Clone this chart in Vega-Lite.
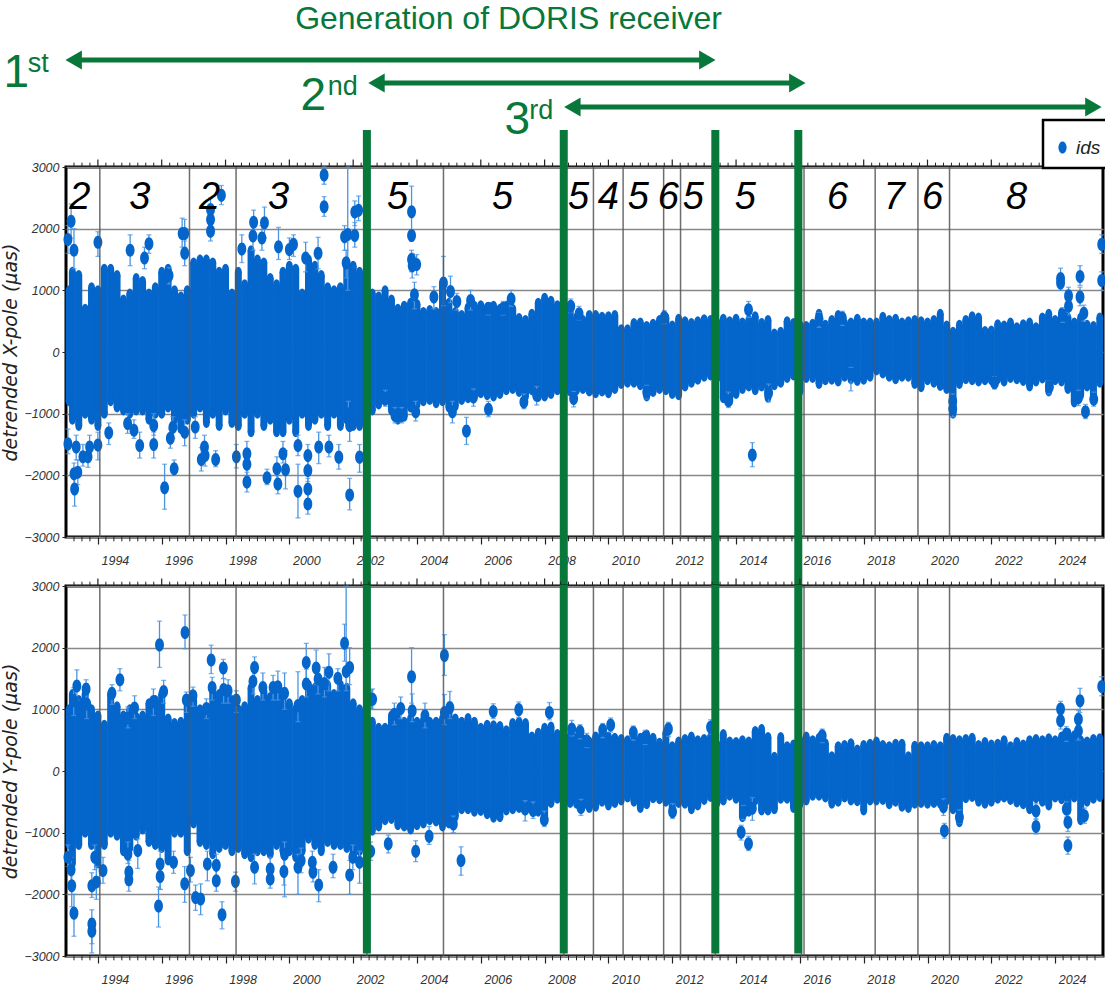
{
"$schema":"https://vega.github.io/schema/vega-lite/v6.json",
"background":"white",
"autosize":{"type":"none"},
"padding":{"left":66,"top":167,"right":1039,"bottom":827},
"bounds":"flush",
"spacing":49,
"config":{"view":{"stroke":"black","strokeWidth":3},"text":{"font":"Liberation Sans"}},
"datasets":{
"bandX":[
{"t":1993.1,"lo":-800,"hi":1000},{"t":1993.2,"lo":-1100,"hi":1300},{"t":1993.4,"lo":-1200,"hi":1250},{"t":1993.6,"lo":-1000,"hi":700},{"t":1993.8,"lo":-1100,"hi":1050},
{"t":1994.0,"lo":-1200,"hi":1000},{"t":1994.2,"lo":-1000,"hi":1350},{"t":1994.4,"lo":-800,"hi":1350},{"t":1994.6,"lo":-900,"hi":1250},{"t":1994.8,"lo":-950,"hi":850},
{"t":1995.0,"lo":-1000,"hi":950},{"t":1995.2,"lo":-950,"hi":1200},{"t":1995.4,"lo":-950,"hi":1150},{"t":1995.6,"lo":-1100,"hi":950},{"t":1995.8,"lo":-1000,"hi":1050},
{"t":1996.0,"lo":-1000,"hi":1300},{"t":1996.2,"lo":-900,"hi":1350},{"t":1996.4,"lo":-1100,"hi":1000},{"t":1996.6,"lo":-1250,"hi":900},{"t":1996.8,"lo":-1100,"hi":1000},
{"t":1997.0,"lo":-1000,"hi":1450},{"t":1997.2,"lo":-900,"hi":1500},{"t":1997.4,"lo":-1150,"hi":1500},{"t":1997.6,"lo":-1000,"hi":1450},{"t":1997.8,"lo":-1200,"hi":1300},
{"t":1998.0,"lo":-950,"hi":1350},{"t":1998.2,"lo":-1150,"hi":950},{"t":1998.4,"lo":-1200,"hi":1300},{"t":1998.6,"lo":-1000,"hi":1100},{"t":1998.8,"lo":-1300,"hi":1650},
{"t":1999.0,"lo":-1000,"hi":1500},{"t":1999.2,"lo":-1200,"hi":1450},{"t":1999.4,"lo":-1100,"hi":1200},{"t":1999.6,"lo":-1300,"hi":1100},{"t":1999.8,"lo":-1300,"hi":1300},
{"t":2000.0,"lo":-1100,"hi":1400},{"t":2000.2,"lo":-1300,"hi":1350},{"t":2000.4,"lo":-1000,"hi":950},{"t":2000.6,"lo":-1200,"hi":1500},{"t":2000.8,"lo":-1100,"hi":1400},
{"t":2001.0,"lo":-1000,"hi":1250},{"t":2001.2,"lo":-1200,"hi":1050},{"t":2001.4,"lo":-1000,"hi":1000},{"t":2001.6,"lo":-1200,"hi":1050},{"t":2001.8,"lo":-1100,"hi":1400},
{"t":2002.0,"lo":-1200,"hi":1400},{"t":2002.2,"lo":-1200,"hi":1300},{"t":2002.4,"lo":-950,"hi":1000},{"t":2002.6,"lo":-950,"hi":950},{"t":2002.8,"lo":-850,"hi":900},
{"t":2003.0,"lo":-800,"hi":1000},{"t":2003.2,"lo":-950,"hi":850},{"t":2003.4,"lo":-1100,"hi":700},{"t":2003.6,"lo":-1050,"hi":750},{"t":2003.8,"lo":-900,"hi":800},
{"t":2004.0,"lo":-850,"hi":780},{"t":2004.2,"lo":-800,"hi":650},{"t":2004.4,"lo":-780,"hi":680},{"t":2004.6,"lo":-830,"hi":650},{"t":2004.8,"lo":-800,"hi":1100},
{"t":2005.0,"lo":-900,"hi":800},{"t":2005.2,"lo":-880,"hi":650},{"t":2005.4,"lo":-780,"hi":600},{"t":2005.6,"lo":-750,"hi":720},{"t":2005.8,"lo":-700,"hi":750},
{"t":2006.0,"lo":-670,"hi":760},{"t":2006.2,"lo":-700,"hi":720},{"t":2006.4,"lo":-720,"hi":750},{"t":2006.6,"lo":-680,"hi":700},{"t":2006.8,"lo":-620,"hi":750},
{"t":2007.0,"lo":-600,"hi":700},{"t":2007.2,"lo":-650,"hi":550},{"t":2007.4,"lo":-720,"hi":520},{"t":2007.6,"lo":-620,"hi":620},{"t":2007.8,"lo":-730,"hi":800},
{"t":2008.0,"lo":-720,"hi":880},{"t":2008.2,"lo":-680,"hi":830},{"t":2008.4,"lo":-620,"hi":760},{"t":2008.6,"lo":-640,"hi":720},{"t":2008.8,"lo":-640,"hi":640},
{"t":2009.0,"lo":-620,"hi":560},{"t":2009.2,"lo":-600,"hi":520},{"t":2009.4,"lo":-640,"hi":600},{"t":2009.6,"lo":-670,"hi":600},{"t":2009.8,"lo":-640,"hi":570},
{"t":2010.0,"lo":-670,"hi":580},{"t":2010.2,"lo":-600,"hi":600},{"t":2010.4,"lo":-520,"hi":370},{"t":2010.6,"lo":-500,"hi":370},{"t":2010.8,"lo":-500,"hi":470},
{"t":2011.0,"lo":-540,"hi":480},{"t":2011.2,"lo":-720,"hi":420},{"t":2011.4,"lo":-650,"hi":460},{"t":2011.6,"lo":-600,"hi":520},{"t":2011.8,"lo":-620,"hi":560},
{"t":2012.0,"lo":-680,"hi":430},{"t":2012.2,"lo":-700,"hi":540},{"t":2012.4,"lo":-560,"hi":500},{"t":2012.6,"lo":-500,"hi":470},{"t":2012.8,"lo":-450,"hi":500},
{"t":2013.0,"lo":-400,"hi":530},{"t":2013.2,"lo":-380,"hi":520},{"t":2013.4,"lo":-420,"hi":480},{"t":2013.6,"lo":-750,"hi":540},{"t":2013.8,"lo":-800,"hi":500},
{"t":2014.0,"lo":-680,"hi":540},{"t":2014.2,"lo":-600,"hi":480},{"t":2014.4,"lo":-560,"hi":520},{"t":2014.6,"lo":-620,"hi":580},{"t":2014.8,"lo":-560,"hi":470},
{"t":2015.0,"lo":-740,"hi":520},{"t":2015.2,"lo":-540,"hi":300},{"t":2015.4,"lo":-500,"hi":330},{"t":2015.6,"lo":-420,"hi":500},{"t":2015.8,"lo":-380,"hi":470},
{"t":2016.0,"lo":-640,"hi":440},{"t":2016.2,"lo":-420,"hi":420},{"t":2016.4,"lo":-420,"hi":460},{"t":2016.6,"lo":-520,"hi":620},{"t":2016.8,"lo":-460,"hi":440},
{"t":2017.0,"lo":-450,"hi":520},{"t":2017.2,"lo":-480,"hi":600},{"t":2017.4,"lo":-400,"hi":470},{"t":2017.6,"lo":-440,"hi":480},{"t":2017.8,"lo":-470,"hi":540},
{"t":2018.0,"lo":-450,"hi":480},{"t":2018.2,"lo":-400,"hi":480},{"t":2018.4,"lo":-300,"hi":480},{"t":2018.6,"lo":-350,"hi":570},{"t":2018.8,"lo":-400,"hi":520},
{"t":2019.0,"lo":-440,"hi":540},{"t":2019.2,"lo":-400,"hi":480},{"t":2019.4,"lo":-400,"hi":500},{"t":2019.6,"lo":-520,"hi":520},{"t":2019.8,"lo":-570,"hi":500},
{"t":2020.0,"lo":-460,"hi":480},{"t":2020.2,"lo":-500,"hi":520},{"t":2020.4,"lo":-550,"hi":620},{"t":2020.6,"lo":-600,"hi":430},{"t":2020.8,"lo":-1000,"hi":330},
{"t":2021.0,"lo":-520,"hi":440},{"t":2021.2,"lo":-440,"hi":520},{"t":2021.4,"lo":-460,"hi":580},{"t":2021.6,"lo":-480,"hi":560},{"t":2021.8,"lo":-460,"hi":340},
{"t":2022.0,"lo":-460,"hi":350},{"t":2022.2,"lo":-440,"hi":450},{"t":2022.4,"lo":-480,"hi":430},{"t":2022.6,"lo":-420,"hi":480},{"t":2022.8,"lo":-440,"hi":400},
{"t":2023.0,"lo":-470,"hi":450},{"t":2023.2,"lo":-560,"hi":480},{"t":2023.4,"lo":-480,"hi":400},{"t":2023.6,"lo":-430,"hi":560},{"t":2023.8,"lo":-640,"hi":620},
{"t":2024.0,"lo":-460,"hi":520},{"t":2024.2,"lo":-480,"hi":640},{"t":2024.4,"lo":-600,"hi":560},{"t":2024.6,"lo":-820,"hi":480},{"t":2024.8,"lo":-700,"hi":560},
{"t":2025.0,"lo":-560,"hi":440},{"t":2025.2,"lo":-720,"hi":420},{"t":2025.4,"lo":-500,"hi":560}
],
"bandY":[
{"t":1993.1,"lo":-1200,"hi":1000},{"t":1993.2,"lo":-1500,"hi":1250},{"t":1993.4,"lo":-1200,"hi":1150},{"t":1993.6,"lo":-1000,"hi":1250},{"t":1993.8,"lo":-1200,"hi":1000},
{"t":1994.0,"lo":-1500,"hi":900},{"t":1994.2,"lo":-1200,"hi":750},{"t":1994.4,"lo":-1000,"hi":1250},{"t":1994.6,"lo":-1050,"hi":1050},{"t":1994.8,"lo":-1300,"hi":900},
{"t":1995.0,"lo":-1250,"hi":1000},{"t":1995.2,"lo":-1050,"hi":880},{"t":1995.4,"lo":-950,"hi":900},{"t":1995.6,"lo":-1150,"hi":1100},{"t":1995.8,"lo":-1200,"hi":1150},
{"t":1996.0,"lo":-1250,"hi":1250},{"t":1996.2,"lo":-1450,"hi":850},{"t":1996.4,"lo":-1000,"hi":780},{"t":1996.6,"lo":-1000,"hi":800},{"t":1996.8,"lo":-1300,"hi":1050},
{"t":1997.0,"lo":-850,"hi":1150},{"t":1997.2,"lo":-1150,"hi":1000},{"t":1997.4,"lo":-1200,"hi":1000},{"t":1997.6,"lo":-1350,"hi":1300},{"t":1997.8,"lo":-1250,"hi":1250},
{"t":1998.0,"lo":-1200,"hi":1250},{"t":1998.2,"lo":-1300,"hi":1150},{"t":1998.4,"lo":-1250,"hi":1000},{"t":1998.6,"lo":-1350,"hi":1050},{"t":1998.8,"lo":-1400,"hi":1350},
{"t":1999.0,"lo":-1300,"hi":1150},{"t":1999.2,"lo":-1300,"hi":1300},{"t":1999.4,"lo":-1350,"hi":1200},{"t":1999.6,"lo":-1200,"hi":1350},{"t":1999.8,"lo":-1300,"hi":1250},
{"t":2000.0,"lo":-1300,"hi":1100},{"t":2000.2,"lo":-1400,"hi":1000},{"t":2000.4,"lo":-1300,"hi":1150},{"t":2000.6,"lo":-1100,"hi":1400},{"t":2000.8,"lo":-1200,"hi":1350},
{"t":2001.0,"lo":-1300,"hi":1350},{"t":2001.2,"lo":-1150,"hi":1400},{"t":2001.4,"lo":-1200,"hi":1250},{"t":2001.6,"lo":-1200,"hi":1400},{"t":2001.8,"lo":-1250,"hi":1350},
{"t":2002.0,"lo":-1350,"hi":1100},{"t":2002.2,"lo":-1300,"hi":1000},{"t":2002.4,"lo":-1050,"hi":800},{"t":2002.6,"lo":-970,"hi":800},{"t":2002.8,"lo":-900,"hi":700},
{"t":2003.0,"lo":-800,"hi":700},{"t":2003.2,"lo":-780,"hi":900},{"t":2003.4,"lo":-880,"hi":920},{"t":2003.6,"lo":-900,"hi":800},{"t":2003.8,"lo":-950,"hi":850},
{"t":2004.0,"lo":-880,"hi":800},{"t":2004.2,"lo":-850,"hi":820},{"t":2004.4,"lo":-800,"hi":800},{"t":2004.6,"lo":-820,"hi":800},{"t":2004.8,"lo":-900,"hi":850},
{"t":2005.0,"lo":-850,"hi":950},{"t":2005.2,"lo":-740,"hi":850},{"t":2005.4,"lo":-620,"hi":800},{"t":2005.6,"lo":-620,"hi":860},{"t":2005.8,"lo":-660,"hi":800},
{"t":2006.0,"lo":-650,"hi":700},{"t":2006.2,"lo":-700,"hi":750},{"t":2006.4,"lo":-760,"hi":740},{"t":2006.6,"lo":-750,"hi":730},{"t":2006.8,"lo":-640,"hi":660},
{"t":2007.0,"lo":-620,"hi":780},{"t":2007.2,"lo":-600,"hi":800},{"t":2007.4,"lo":-620,"hi":780},{"t":2007.6,"lo":-600,"hi":560},{"t":2007.8,"lo":-660,"hi":620},
{"t":2008.0,"lo":-730,"hi":700},{"t":2008.2,"lo":-520,"hi":720},{"t":2008.4,"lo":-450,"hi":600},{"t":2008.6,"lo":-480,"hi":560},{"t":2008.8,"lo":-520,"hi":560},
{"t":2009.0,"lo":-530,"hi":540},{"t":2009.2,"lo":-560,"hi":520},{"t":2009.4,"lo":-600,"hi":480},{"t":2009.6,"lo":-580,"hi":560},{"t":2009.8,"lo":-500,"hi":600},
{"t":2010.0,"lo":-560,"hi":560},{"t":2010.2,"lo":-520,"hi":540},{"t":2010.4,"lo":-480,"hi":520},{"t":2010.6,"lo":-430,"hi":500},{"t":2010.8,"lo":-500,"hi":510},
{"t":2011.0,"lo":-600,"hi":540},{"t":2011.2,"lo":-540,"hi":590},{"t":2011.4,"lo":-440,"hi":540},{"t":2011.6,"lo":-460,"hi":460},{"t":2011.8,"lo":-500,"hi":620},
{"t":2012.0,"lo":-640,"hi":400},{"t":2012.2,"lo":-520,"hi":480},{"t":2012.4,"lo":-530,"hi":520},{"t":2012.6,"lo":-620,"hi":560},{"t":2012.8,"lo":-560,"hi":500},
{"t":2013.0,"lo":-470,"hi":520},{"t":2013.2,"lo":-420,"hi":550},{"t":2013.4,"lo":-520,"hi":430},{"t":2013.6,"lo":-480,"hi":600},{"t":2013.8,"lo":-400,"hi":480},
{"t":2014.0,"lo":-450,"hi":470},{"t":2014.2,"lo":-750,"hi":500},{"t":2014.4,"lo":-660,"hi":480},{"t":2014.6,"lo":-480,"hi":650},{"t":2014.8,"lo":-640,"hi":680},
{"t":2015.0,"lo":-640,"hi":550},{"t":2015.2,"lo":-620,"hi":230},{"t":2015.4,"lo":-450,"hi":550},{"t":2015.6,"lo":-450,"hi":400},{"t":2015.8,"lo":-600,"hi":430},
{"t":2016.0,"lo":-540,"hi":500},{"t":2016.2,"lo":-480,"hi":560},{"t":2016.4,"lo":-400,"hi":500},{"t":2016.6,"lo":-400,"hi":540},{"t":2016.8,"lo":-430,"hi":450},
{"t":2017.0,"lo":-530,"hi":240},{"t":2017.2,"lo":-500,"hi":400},{"t":2017.4,"lo":-430,"hi":420},{"t":2017.6,"lo":-480,"hi":450},{"t":2017.8,"lo":-490,"hi":350},
{"t":2018.0,"lo":-640,"hi":420},{"t":2018.2,"lo":-480,"hi":440},{"t":2018.4,"lo":-480,"hi":480},{"t":2018.6,"lo":-470,"hi":420},{"t":2018.8,"lo":-540,"hi":400},
{"t":2019.0,"lo":-500,"hi":440},{"t":2019.2,"lo":-580,"hi":440},{"t":2019.4,"lo":-600,"hi":240},{"t":2019.6,"lo":-530,"hi":410},{"t":2019.8,"lo":-520,"hi":400},
{"t":2020.0,"lo":-530,"hi":400},{"t":2020.2,"lo":-520,"hi":420},{"t":2020.4,"lo":-530,"hi":400},{"t":2020.6,"lo":-480,"hi":540},{"t":2020.8,"lo":-620,"hi":520},
{"t":2021.0,"lo":-830,"hi":500},{"t":2021.2,"lo":-440,"hi":520},{"t":2021.4,"lo":-420,"hi":540},{"t":2021.6,"lo":-500,"hi":420},{"t":2021.8,"lo":-530,"hi":470},
{"t":2022.0,"lo":-500,"hi":430},{"t":2022.2,"lo":-450,"hi":440},{"t":2022.4,"lo":-430,"hi":500},{"t":2022.6,"lo":-470,"hi":400},{"t":2022.8,"lo":-510,"hi":470},
{"t":2023.0,"lo":-540,"hi":430},{"t":2023.2,"lo":-620,"hi":500},{"t":2023.4,"lo":-440,"hi":520},{"t":2023.6,"lo":-500,"hi":500},{"t":2023.8,"lo":-560,"hi":530},
{"t":2024.0,"lo":-430,"hi":500},{"t":2024.2,"lo":-460,"hi":560},{"t":2024.4,"lo":-640,"hi":620},{"t":2024.6,"lo":-430,"hi":580},{"t":2024.8,"lo":-800,"hi":500},
{"t":2025.0,"lo":-500,"hi":480},{"t":2025.2,"lo":-450,"hi":520},{"t":2025.4,"lo":-420,"hi":530}
],
"ptsX":[
{"t":1993.06,"v":1825,"lo":1600,"hi":2050},{"t":1993.16,"v":2120,"lo":1850,"hi":2400},{"t":1993.25,"v":1650,"lo":1350,"hi":2000},{"t":1993.06,"v":-1490,"lo":-1650,"hi":-1250},{"t":1993.27,"v":-2220,"lo":-2500,"hi":-2000},{"t":1993.25,"v":-1975,"lo":-2150,"hi":-1800},{"t":1993.37,"v":-1950,"lo":-2150,"hi":-1750},{"t":1993.32,"v":-1540,"lo":-1750,"hi":-1350},{"t":1993.53,"v":-1700,"lo":-1850,"hi":-1500},{"t":1993.69,"v":-1700,"lo":-1870,"hi":-1500},{"t":1993.74,"v":-1540,"lo":-1700,"hi":-1350},
{"t":1994.0,"v":1780,"lo":1550,"hi":1950},{"t":1994.0,"v":-1510,"lo":-1750,"hi":-1300},{"t":1994.34,"v":-1310,"lo":-1500,"hi":-1150},{"t":1995.01,"v":1650,"lo":1400,"hi":1900},{"t":1994.93,"v":-1160,"lo":-1320,"hi":-1000},{"t":1995.13,"v":-1270,"lo":-1400,"hi":-1100},{"t":1995.31,"v":-1515,"lo":-1720,"hi":-1300},{"t":1995.46,"v":1525,"lo":1350,"hi":1700},{"t":1995.6,"v":1755,"lo":1600,"hi":1900},{"t":1995.75,"v":-1500,"lo":-1720,"hi":-1300},{"t":1995.75,"v":-1190,"lo":-1350,"hi":-1000},{"t":1996.09,"v":-2200,"lo":-2550,"hi":-1820},{"t":1996.23,"v":1240,"lo":1100,"hi":1370},{"t":1996.39,"v":-1895,"lo":-2000,"hi":-1750},{"t":1996.27,"v":-1400,"lo":-1560,"hi":-1250},{"t":1996.64,"v":1920,"lo":1700,"hi":2170},{"t":1996.72,"v":1920,"lo":1700,"hi":2150},{"t":1996.35,"v":-1220,"lo":-1400,"hi":-1050},{"t":1996.72,"v":1600,"lo":1400,"hi":1800},{"t":1996.72,"v":-1300,"lo":-1520,"hi":-1100},
{"t":1997.05,"v":-1215,"lo":-1400,"hi":-1050},{"t":1997.24,"v":-1745,"lo":-1930,"hi":-1550},{"t":1997.36,"v":-1680,"lo":-1850,"hi":-1500},{"t":1997.34,"v":-1540,"lo":-1700,"hi":-1350},{"t":1997.53,"v":2150,"lo":1950,"hi":2350},{"t":1997.53,"v":2310,"lo":2150,"hi":2500},{"t":1997.53,"v":1960,"lo":1800,"hi":2120},{"t":1997.87,"v":2540,"lo":2390,"hi":2700},{"t":1997.69,"v":-1745,"lo":-1860,"hi":-1600},{"t":1998.34,"v":-1700,"lo":-1880,"hi":-1500},{"t":1998.51,"v":1670,"lo":1450,"hi":1900},{"t":1998.67,"v":-1650,"lo":-1850,"hi":-1450},{"t":1998.67,"v":-1820,"lo":-2000,"hi":-1650},{"t":1998.67,"v":-2110,"lo":-2270,"hi":-1950},{"t":1998.86,"v":1880,"lo":1650,"hi":2100},{"t":1998.88,"v":2105,"lo":1900,"hi":2300},{"t":1999.22,"v":2095,"lo":1850,"hi":2350},{"t":1999.14,"v":1850,"lo":1650,"hi":2050},{"t":1999.3,"v":-2040,"lo":-2150,"hi":-1900},{"t":1999.64,"v":-2140,"lo":-2300,"hi":-2000},{"t":1999.61,"v":-1895,"lo":-2100,"hi":-1700},{"t":1999.66,"v":1705,"lo":1500,"hi":2020},{"t":1999.88,"v":-1910,"lo":-2220,"hi":-1600},{"t":1999.8,"v":-1650,"lo":-1800,"hi":-1450},
{"t":2000.0,"v":1660,"lo":1500,"hi":1850},{"t":2000.13,"v":1745,"lo":1550,"hi":1900},{"t":2000.27,"v":-2260,"lo":-2690,"hi":-1820},{"t":2000.27,"v":-1515,"lo":-1680,"hi":-1350},{"t":2000.51,"v":1525,"lo":1300,"hi":1780},{"t":2000.58,"v":-2465,"lo":-2630,"hi":-2300},{"t":2000.58,"v":-2220,"lo":-2400,"hi":-2050},{"t":2000.58,"v":-1920,"lo":-2100,"hi":-1750},{"t":2000.58,"v":-1680,"lo":-1850,"hi":-1500},{"t":2000.92,"v":-1540,"lo":-1810,"hi":-1300},{"t":2000.9,"v":1600,"lo":1350,"hi":1860},{"t":2001.09,"v":2870,"lo":2720,"hi":3000},{"t":2001.09,"v":2355,"lo":2200,"hi":2520},{"t":2001.24,"v":-1540,"lo":-1700,"hi":-1350},{"t":2001.55,"v":-1705,"lo":-1900,"hi":-1500},{"t":2001.73,"v":1870,"lo":1650,"hi":2050},{"t":2001.83,"v":1905,"lo":1000,"hi":3000},{"t":2001.89,"v":-2320,"lo":-2560,"hi":-2050},{"t":2001.89,"v":-1190,"lo":-1450,"hi":-950},{"t":2002.05,"v":2270,"lo":2050,"hi":2450},{"t":2002.17,"v":2300,"lo":2130,"hi":2530},{"t":2002.05,"v":1890,"lo":1700,"hi":2100},{"t":2002.2,"v":-1705,"lo":-1950,"hi":-1500},{"t":2001.78,"v":1445,"lo":1200,"hi":1650},{"t":2001.85,"v":-1000,"lo":-1200,"hi":-800},
{"t":2003.83,"v":2275,"lo":1900,"hi":2690},{"t":2003.83,"v":1890,"lo":1800,"hi":1980},{"t":2003.83,"v":1500,"lo":1300,"hi":1650},{"t":2003.85,"v":1400,"lo":1200,"hi":1600},{"t":2003.99,"v":1420,"lo":1250,"hi":1580},{"t":2003.92,"v":930,"lo":700,"hi":1130},{"t":2004.53,"v":890,"lo":700,"hi":1060},{"t":2004.83,"v":1120,"lo":750,"hi":1550},{"t":2005.05,"v":980,"lo":800,"hi":1230},{"t":2005.25,"v":820,"lo":680,"hi":950},{"t":2005.68,"v":835,"lo":680,"hi":1000},{"t":2006.24,"v":710,"lo":600,"hi":800},{"t":2006.7,"v":710,"lo":600,"hi":820},{"t":2006.95,"v":860,"lo":740,"hi":1000},{"t":2008.82,"v":740,"lo":640,"hi":860},{"t":2009.08,"v":620,"lo":520,"hi":740},{"t":2011.75,"v":565,"lo":460,"hi":670},{"t":2008.91,"v":-755,"lo":-890,"hi":-640},{"t":2007.35,"v":-810,"lo":-920,"hi":-680},{"t":2006.24,"v":-930,"lo":-1050,"hi":-800},{"t":2005.55,"v":-1280,"lo":-1500,"hi":-1060},{"t":2005.11,"v":-970,"lo":-1150,"hi":-800},{"t":2005.77,"v":-730,"lo":-880,"hi":-600},{"t":2003.96,"v":-970,"lo":-1120,"hi":-800},{"t":2003.52,"v":-1030,"lo":-1150,"hi":-900},{"t":2003.31,"v":-1030,"lo":-1150,"hi":-900},{"t":2003.01,"v":-755,"lo":-880,"hi":-620},{"t":2007.75,"v":-700,"lo":-860,"hi":-560},{"t":2011.2,"v":-650,"lo":-760,"hi":-540},
{"t":2014.39,"v":685,"lo":560,"hi":820},{"t":2014.51,"v":-1670,"lo":-1860,"hi":-1470},{"t":2013.76,"v":-790,"lo":-900,"hi":-650},{"t":2015.02,"v":-660,"lo":-810,"hi":-520},{"t":2016.6,"v":530,"lo":400,"hi":640},{"t":2017.33,"v":550,"lo":430,"hi":660},{"t":2017.6,"v":-360,"lo":-630,"hi":-250},{"t":2024.17,"v":1190,"lo":1050,"hi":1360},{"t":2024.17,"v":1120,"lo":1000,"hi":1250},{"t":2024.78,"v":1225,"lo":1080,"hi":1400},{"t":2024.78,"v":890,"lo":750,"hi":1050},{"t":2024.42,"v":910,"lo":780,"hi":1050},{"t":2024.42,"v":740,"lo":600,"hi":880},{"t":2024.24,"v":600,"lo":480,"hi":720},{"t":2024.9,"v":630,"lo":500,"hi":760},{"t":2025.46,"v":1745,"lo":1600,"hi":1900},{"t":2025.46,"v":1160,"lo":1000,"hi":1300},{"t":2020.79,"v":-920,"lo":-1050,"hi":-780},{"t":2020.79,"v":-800,"lo":-920,"hi":-680},{"t":2024.95,"v":-970,"lo":-1080,"hi":-850},{"t":2024.73,"v":-740,"lo":-870,"hi":-620},{"t":2025.21,"v":-765,"lo":-880,"hi":-650},{"t":2023.82,"v":-565,"lo":-680,"hi":-470},{"t":2022.1,"v":-500,"lo":-600,"hi":-400}
],
"ptsY":[
{"t":1993.34,"v":1380,"lo":1150,"hi":1640},{"t":1993.24,"v":1140,"lo":900,"hi":1350},{"t":1993.63,"v":1330,"lo":1150,"hi":1480},{"t":1993.65,"v":1085,"lo":850,"hi":1300},{"t":1994.44,"v":1260,"lo":1080,"hi":1400},{"t":1994.69,"v":1480,"lo":1300,"hi":1660},{"t":1995.15,"v":1020,"lo":850,"hi":1220},{"t":1994.94,"v":860,"lo":700,"hi":1040},{"t":1995.74,"v":1125,"lo":900,"hi":1330},{"t":1995.93,"v":2045,"lo":1680,"hi":2430},{"t":1996.06,"v":1290,"lo":1100,"hi":1470},{"t":1996.73,"v":2245,"lo":1980,"hi":2530},{"t":1996.77,"v":1150,"lo":950,"hi":1280},{"t":1996.98,"v":1220,"lo":1050,"hi":1360},{"t":1997.4,"v":1015,"lo":850,"hi":1170},{"t":1997.55,"v":1800,"lo":1580,"hi":2040},{"t":1997.58,"v":1355,"lo":1150,"hi":1520},{"t":1997.93,"v":1670,"lo":1500,"hi":1810},{"t":1997.94,"v":1320,"lo":1100,"hi":1500},{"t":1998.08,"v":1300,"lo":1100,"hi":1480},{"t":1998.34,"v":1150,"lo":950,"hi":1300},{"t":1998.91,"v":1680,"lo":1500,"hi":1850},{"t":1998.86,"v":1450,"lo":1250,"hi":1650},{"t":1999.17,"v":1355,"lo":1150,"hi":1590},{"t":1999.49,"v":1355,"lo":1150,"hi":1550},{"t":1999.64,"v":1365,"lo":1150,"hi":1620},{"t":1999.85,"v":1260,"lo":1000,"hi":1590},{"t":2000.27,"v":1060,"lo":800,"hi":1610},{"t":2000.53,"v":1760,"lo":1500,"hi":2070},{"t":2000.53,"v":1410,"lo":1200,"hi":1650},{"t":2000.84,"v":1670,"lo":1400,"hi":1960},{"t":2000.9,"v":1490,"lo":1250,"hi":1700},{"t":2001.1,"v":1420,"lo":1200,"hi":1680},{"t":2001.24,"v":1600,"lo":1300,"hi":1900},{"t":2001.52,"v":1505,"lo":1300,"hi":1660},{"t":2001.73,"v":2070,"lo":1780,"hi":2380},{"t":2001.78,"v":1615,"lo":1300,"hi":3000},{"t":2001.89,"v":1680,"lo":1400,"hi":2000},{"t":2002.57,"v":1165,"lo":1000,"hi":1320},
{"t":1993.06,"v":-1400,"lo":-1550,"hi":-1200},{"t":1993.16,"v":-1600,"lo":-1800,"hi":-1400},{"t":1993.18,"v":-1860,"lo":-2200,"hi":-1600},{"t":1993.25,"v":-2305,"lo":-2680,"hi":-2000},{"t":1993.81,"v":-1860,"lo":-2050,"hi":-1650},{"t":1993.81,"v":-2480,"lo":-2800,"hi":-2250},{"t":1993.81,"v":-2600,"lo":-2950,"hi":-2400},{"t":1993.9,"v":-1400,"lo":-1600,"hi":-1200},{"t":1993.95,"v":-1800,"lo":-2080,"hi":-1550},{"t":1994.16,"v":-1615,"lo":-1820,"hi":-1400},{"t":1994.94,"v":-1345,"lo":-1500,"hi":-1150},{"t":1994.97,"v":-1640,"lo":-1850,"hi":-1450},{"t":1994.97,"v":-1765,"lo":-1950,"hi":-1600},{"t":1995.25,"v":-1290,"lo":-1580,"hi":-1100},{"t":1995.95,"v":-1510,"lo":-1920,"hi":-1300},{"t":1995.95,"v":-1710,"lo":-1920,"hi":-1500},{"t":1995.9,"v":-2190,"lo":-2530,"hi":-1880},{"t":1996.37,"v":-1480,"lo":-1660,"hi":-1300},{"t":1996.72,"v":-1830,"lo":-2130,"hi":-1550},{"t":1996.9,"v":-1615,"lo":-1800,"hi":-1400},{"t":1997.06,"v":-2050,"lo":-2260,"hi":-1850},{"t":1997.22,"v":-2075,"lo":-2330,"hi":-1830},{"t":1997.43,"v":-1510,"lo":-1780,"hi":-1300},{"t":1997.71,"v":-1530,"lo":-1720,"hi":-1350},{"t":1997.71,"v":-1780,"lo":-1950,"hi":-1600},{"t":1997.89,"v":-2330,"lo":-2560,"hi":-2120},{"t":1998.31,"v":-1790,"lo":-1950,"hi":-1640},{"t":1998.91,"v":-1560,"lo":-1830,"hi":-1350},{"t":1999.4,"v":-1590,"lo":-1800,"hi":-1400},{"t":1999.4,"v":-1750,"lo":-1900,"hi":-1600},{"t":1999.83,"v":-1630,"lo":-1850,"hi":-1400},{"t":1999.85,"v":-1350,"lo":-2040,"hi":-1150},{"t":2000.27,"v":-1560,"lo":-2000,"hi":-1350},{"t":2000.37,"v":-1450,"lo":-1650,"hi":-1250},{"t":2000.72,"v":-1480,"lo":-1650,"hi":-1300},{"t":2000.74,"v":-1640,"lo":-1800,"hi":-1450},{"t":2000.92,"v":-1850,"lo":-2120,"hi":-1600},{"t":2001.37,"v":-1560,"lo":-1730,"hi":-1350},{"t":2001.89,"v":-1685,"lo":-2000,"hi":-1450},{"t":2001.99,"v":-1400,"lo":-1600,"hi":-1200},{"t":2002.2,"v":-1480,"lo":-1820,"hi":-1300},{"t":2002.55,"v":-1300,"lo":-1450,"hi":-1150},
{"t":2002.61,"v":1165,"lo":1000,"hi":1330},{"t":2003.29,"v":920,"lo":750,"hi":1100},{"t":2003.49,"v":1015,"lo":850,"hi":1200},{"t":2003.83,"v":1530,"lo":1100,"hi":2000},{"t":2003.85,"v":975,"lo":800,"hi":1250},{"t":2004.25,"v":895,"lo":700,"hi":1100},{"t":2004.86,"v":1875,"lo":1550,"hi":2210},{"t":2004.86,"v":950,"lo":750,"hi":1240},{"t":2005.03,"v":1030,"lo":850,"hi":1290},{"t":2006.39,"v":965,"lo":850,"hi":1090},{"t":2007.19,"v":995,"lo":870,"hi":1120},{"t":2008.15,"v":950,"lo":830,"hi":1110},{"t":2008.85,"v":680,"lo":570,"hi":820},{"t":2009.11,"v":640,"lo":520,"hi":750},{"t":2009.32,"v":490,"lo":380,"hi":610},{"t":2009.82,"v":665,"lo":540,"hi":770},{"t":2010.07,"v":745,"lo":630,"hi":860},{"t":2010.78,"v":625,"lo":500,"hi":730},{"t":2011.15,"v":545,"lo":430,"hi":660},{"t":2011.88,"v":680,"lo":560,"hi":790},{"t":2013.2,"v":710,"lo":600,"hi":830},
{"t":2003.1,"v":-1180,"lo":-1330,"hi":-1040},{"t":2003.96,"v":-1300,"lo":-1470,"hi":-1130},{"t":2004.38,"v":-1060,"lo":-1190,"hi":-900},{"t":2005.38,"v":-1450,"lo":-1690,"hi":-1230},{"t":2005.14,"v":-860,"lo":-1000,"hi":-730},{"t":2007.39,"v":-615,"lo":-810,"hi":-480},{"t":2007.64,"v":-640,"lo":-770,"hi":-500},{"t":2007.99,"v":-790,"lo":-900,"hi":-650},{"t":2009.14,"v":-590,"lo":-720,"hi":-460},{"t":2012.01,"v":-660,"lo":-770,"hi":-530},
{"t":2014.16,"v":-995,"lo":-1120,"hi":-880},{"t":2014.39,"v":-1180,"lo":-1290,"hi":-1060},{"t":2014.51,"v":-605,"lo":-800,"hi":-430},{"t":2014.23,"v":-670,"lo":-790,"hi":-560},{"t":2016.7,"v":570,"lo":460,"hi":680},{"t":2020.53,"v":-970,"lo":-1090,"hi":-850},{"t":2020.5,"v":-580,"lo":-720,"hi":-450},{"t":2021,"v":-750,"lo":-850,"hi":-630},{"t":2023.4,"v":-650,"lo":-780,"hi":-530},{"t":2023.4,"v":-900,"lo":-1020,"hi":-780},{"t":2024.17,"v":1005,"lo":870,"hi":1130},{"t":2024.17,"v":815,"lo":680,"hi":950},{"t":2024.78,"v":1140,"lo":950,"hi":1340},{"t":2024.73,"v":840,"lo":700,"hi":980},{"t":2024.73,"v":650,"lo":500,"hi":780},{"t":2024.35,"v":600,"lo":480,"hi":720},{"t":2024.4,"v":-830,"lo":-980,"hi":-680},{"t":2024.4,"v":-1210,"lo":-1350,"hi":-1070},{"t":2024.35,"v":-615,"lo":-750,"hi":-500},{"t":2024.92,"v":-725,"lo":-850,"hi":-600},{"t":2025.46,"v":1370,"lo":1220,"hi":1530}
],
"vlines":[{"t":1994.06},{"t":1996.87},{"t":1998.33},{"t":2002.43},{"t":2004.83},{"t":2008.6},{"t":2009.53},{"t":2010.46},{"t":2011.73},{"t":2012.26},{"t":2013.35},{"t":2016.05},{"t":2016.13},{"t":2018.36},{"t":2019.7},{"t":2020.69}],
"minor":[{"t":1993.25},{"t":1993.5},{"t":1993.75},{"t":1994.25},{"t":1994.5},{"t":1994.75},{"t":1995},{"t":1995.25},{"t":1995.5},{"t":1995.75},{"t":1996.25},{"t":1996.5},{"t":1996.75},{"t":1997},{"t":1997.25},{"t":1997.5},{"t":1997.75},{"t":1998.25},{"t":1998.5},{"t":1998.75},{"t":1999},{"t":1999.25},{"t":1999.5},{"t":1999.75},{"t":2000.25},{"t":2000.5},{"t":2000.75},{"t":2001},{"t":2001.25},{"t":2001.5},{"t":2001.75},{"t":2002.25},{"t":2002.5},{"t":2002.75},{"t":2003},{"t":2003.25},{"t":2003.5},{"t":2003.75},{"t":2004.25},{"t":2004.5},{"t":2004.75},{"t":2005},{"t":2005.25},{"t":2005.5},{"t":2005.75},{"t":2006.25},{"t":2006.5},{"t":2006.75},{"t":2007},{"t":2007.25},{"t":2007.5},{"t":2007.75},{"t":2008.25},{"t":2008.5},{"t":2008.75},{"t":2009},{"t":2009.25},{"t":2009.5},{"t":2009.75},{"t":2010.25},{"t":2010.5},{"t":2010.75},{"t":2011},{"t":2011.25},{"t":2011.5},{"t":2011.75},{"t":2012.25},{"t":2012.5},{"t":2012.75},{"t":2013},{"t":2013.25},{"t":2013.5},{"t":2013.75},{"t":2014.25},{"t":2014.5},{"t":2014.75},{"t":2015},{"t":2015.25},{"t":2015.5},{"t":2015.75},{"t":2016.25},{"t":2016.5},{"t":2016.75},{"t":2017},{"t":2017.25},{"t":2017.5},{"t":2017.75},{"t":2018.25},{"t":2018.5},{"t":2018.75},{"t":2019},{"t":2019.25},{"t":2019.5},{"t":2019.75},{"t":2020.25},{"t":2020.5},{"t":2020.75},{"t":2021},{"t":2021.25},{"t":2021.5},{"t":2021.75},{"t":2022.25},{"t":2022.5},{"t":2022.75},{"t":2023},{"t":2023.25},{"t":2023.5},{"t":2023.75},{"t":2024.25},{"t":2024.5},{"t":2024.75},{"t":2025},{"t":2025.25}],
"major":[{"t":1994},{"t":1996},{"t":1998},{"t":2000},{"t":2002},{"t":2004},{"t":2006},{"t":2008},{"t":2010},{"t":2012},{"t":2014},{"t":2016},{"t":2018},{"t":2020},{"t":2022},{"t":2024}],
"bars":[{"t":2002.43},{"t":2008.6},{"t":2013.35},{"t":2015.95}],
"arrows":[{"t":1993.24,"t2":2013.1,"v":4735},{"t":2002.73,"t2":2015.92,"v":4362},{"t":2008.87,"t2":2025.2,"v":3973}],
"heads":[{"t":1993.24,"v":4735,"d":"l"},{"t":2013.1,"v":4735,"d":"r"},{"t":2002.73,"v":4362,"d":"l"},{"t":2015.92,"v":4362,"d":"r"},{"t":2008.87,"v":3973,"d":"l"},{"t":2025.2,"v":3973,"d":"r"}],
"gen":[{"t":1993.43,"v":2497,"s":"2"},{"t":1995.31,"v":2497,"s":"3"},{"t":1997.5,"v":2497,"s":"2"},{"t":1999.66,"v":2497,"s":"3"},{"t":2003.39,"v":2497,"s":"5"},{"t":2006.68,"v":2497,"s":"5"},{"t":2009.06,"v":2497,"s":"5"},{"t":2010,"v":2497,"s":"4"},{"t":2010.94,"v":2497,"s":"5"},{"t":2011.88,"v":2497,"s":"6"},{"t":2012.66,"v":2497,"s":"5"},{"t":2014.29,"v":2497,"s":"5"},{"t":2017.18,"v":2497,"s":"6"},{"t":2018.96,"v":2497,"s":"7"},{"t":2020.16,"v":2497,"s":"6"},{"t":2022.79,"v":2497,"s":"8"}],
"big":[{"t":1991.04,"v":4297,"s":"1"},{"t":2000.35,"v":3924,"s":"2"},{"t":2006.74,"v":3535,"s":"3"}],
"sup":[{"t":1991.8,"v":4541,"s":"st"},{"t":2001.2,"v":4168,"s":"nd"},{"t":2007.52,"v":3778,"s":"rd"}],
"header":[{"t":2006.87,"v":5400,"s":"Generation of DORIS receiver"}]
},
"vconcat":[
{"width":1037,"height":370,
"encoding":{"x":{"field":"t","type":"quantitative","title":null,"scale":{"domain":[1993,2025.5],"nice":false,"zero":false},"axis":{"values":[1994,1996,1998,2000,2002,2004,2006,2008,2010,2012,2014,2016,2018,2020,2022,2024],"format":"d","grid":false,"domain":false,"tickSize":7,"tickWidth":1.2,"tickColor":"#222","labelOffset":17,"labelPadding":10,"labelFont":"Liberation Sans","labelFontStyle":"italic","labelFontSize":12.5,"labelColor":"#333","labelFlush":false,"labelOverlap":false}}},
"layer":[
{"data":{"name":"bandX"},"mark":{"type":"rule","strokeWidth":7,"color":"#0465CB"},"encoding":{"y":{"field":"lo","type":"quantitative","title":"detrended X-pole (µas)","scale":{"domain":[-3000,3000],"nice":false,"zero":false},"axis":{"values":[-3000,-2500,-2000,-1500,-1000,-500,0,500,1000,1500,2000,2500,3000],"format":"d","labelExpr":"datum.value%1000==0?datum.label:''","grid":true,"gridColor":"#888","gridWidth":1.6,"domain":false,"tickSize":4,"tickColor":"#222","tickOpacity":{"condition":{"test":"datum.value%1000==0","value":1},"value":0},"labelPadding":3,"labelFont":"Liberation Sans","labelFontStyle":"italic","labelFontSize":12.5,"labelColor":"#333","labelOverlap":false,"titleFont":"DejaVu Sans","titleFontStyle":"italic","titleFontWeight":"normal","titleFontSize":19,"titleColor":"#222","titleX":-46,"titleY":185}},"y2":{"field":"hi"}}},
{"data":{"name":"bandX"},"mark":{"type":"point","filled":true,"opacity":1,"size":100,"color":"#0465CB","shape":"M0,-1 A0.68,1 0 1,1 0,1 A0.68,1 0 1,1 0,-1 Z"},"encoding":{"y":{"field":"hi","type":"quantitative","scale":{"domain":[-3000,3000],"nice":false,"zero":false}}}},
{"data":{"name":"bandX"},"mark":{"type":"point","filled":true,"opacity":1,"size":100,"color":"#0465CB","shape":"M0,-1 A0.68,1 0 1,1 0,1 A0.68,1 0 1,1 0,-1 Z"},"encoding":{"y":{"field":"lo","type":"quantitative","scale":{"domain":[-3000,3000],"nice":false,"zero":false}}}},
{"data":{"name":"ptsX"},"mark":{"type":"rule","strokeWidth":1.3,"color":"#4A94E2"},"encoding":{"y":{"field":"lo","type":"quantitative","scale":{"domain":[-3000,3000],"nice":false,"zero":false}},"y2":{"field":"hi"}}},
{"data":{"name":"ptsX"},"mark":{"type":"tick","orient":"horizontal","size":5,"thickness":1.3,"color":"#4A94E2"},"encoding":{"y":{"field":"lo","type":"quantitative","scale":{"domain":[-3000,3000],"nice":false,"zero":false}}}},
{"data":{"name":"ptsX"},"mark":{"type":"tick","orient":"horizontal","size":5,"thickness":1.3,"color":"#4A94E2"},"encoding":{"y":{"field":"hi","type":"quantitative","scale":{"domain":[-3000,3000],"nice":false,"zero":false}}}},
{"data":{"name":"ptsX"},"mark":{"type":"point","filled":true,"opacity":1,"size":170,"shape":"M0,-1 A0.68,1 0 1,1 0,1 A0.68,1 0 1,1 0,-1 Z"},"encoding":{"y":{"field":"v","type":"quantitative","scale":{"domain":[-3000,3000],"nice":false,"zero":false}},"color":{"datum":"ids","scale":{"range":["#0465CB"]},"legend":{"title":" ","titleFontSize":4,"titlePadding":4,"orient":"none","legendX":977,"legendY":-47,"strokeColor":"black","fillColor":"white","padding":10,"symbolSize":144,"symbolType":"M0,-1 A0.68,1 0 1,1 0,1 A0.68,1 0 1,1 0,-1 Z","labelFont":"Liberation Sans","labelFontStyle":"italic","labelFontSize":19,"labelColor":"#222","symbolOpacity":1,"encode":{"legend":{"update":{"strokeWidth":{"value":2.5}}}}}}}},
{"data":{"name":"vlines"},"mark":{"type":"rule","color":"#555","strokeWidth":1.5,"opacity":0.85}},
{"data":{"name":"minor"},"mark":{"type":"rule","color":"#222","strokeWidth":1},"encoding":{"y":{"datum":3000,"type":"quantitative","scale":{"domain":[-3000,3000],"nice":false,"zero":false}},"y2":{"datum":3070}}},
{"data":{"name":"minor"},"mark":{"type":"rule","color":"#222","strokeWidth":1},"encoding":{"y":{"datum":-3000,"type":"quantitative","scale":{"domain":[-3000,3000],"nice":false,"zero":false}},"y2":{"datum":-3070}}},
{"data":{"name":"major"},"mark":{"type":"rule","color":"#222","strokeWidth":1.2},"encoding":{"y":{"datum":3000,"type":"quantitative","scale":{"domain":[-3000,3000],"nice":false,"zero":false}},"y2":{"datum":3120}}},
{"data":{"name":"gen"},"mark":{"type":"text","fontSize":38,"fontStyle":"italic","color":"black","baseline":"middle","align":"center"},"encoding":{"y":{"field":"v","type":"quantitative","scale":{"domain":[-3000,3000],"nice":false,"zero":false}},"text":{"field":"s"}}},
{"data":{"name":"bars"},"mark":{"type":"rule","color":"#07773A","strokeWidth":8},"encoding":{"y":{"datum":3600,"type":"quantitative","scale":{"domain":[-3000,3000],"nice":false,"zero":false}},"y2":{"datum":-3795}}},
{"data":{"name":"arrows"},"mark":{"type":"rule","color":"#07773A","strokeWidth":5},"encoding":{"y":{"field":"v","type":"quantitative","scale":{"domain":[-3000,3000],"nice":false,"zero":false}},"x2":{"field":"t2"}}},
{"data":{"name":"heads"},"mark":{"type":"point","filled":true,"opacity":1,"color":"#07773A","size":360},"encoding":{"y":{"field":"v","type":"quantitative","scale":{"domain":[-3000,3000],"nice":false,"zero":false}},"shape":{"field":"d","type":"nominal","scale":{"domain":["l","r"],"range":["triangle-left","triangle-right"]},"legend":null}}},
{"data":{"name":"big"},"mark":{"type":"text","fontSize":46,"color":"#07773A","align":"left","baseline":"alphabetic"},"encoding":{"y":{"field":"v","type":"quantitative","scale":{"domain":[-3000,3000],"nice":false,"zero":false}},"text":{"field":"s"}}},
{"data":{"name":"sup"},"mark":{"type":"text","fontSize":27,"color":"#07773A","align":"left","baseline":"alphabetic"},"encoding":{"y":{"field":"v","type":"quantitative","scale":{"domain":[-3000,3000],"nice":false,"zero":false}},"text":{"field":"s"}}},
{"data":{"name":"header"},"mark":{"type":"text","fontSize":32,"color":"#07773A","align":"center","baseline":"middle"},"encoding":{"y":{"field":"v","type":"quantitative","scale":{"domain":[-3000,3000],"nice":false,"zero":false}},"text":{"field":"s"}}}
]},
{"width":1037,"height":370,
"encoding":{"x":{"field":"t","type":"quantitative","title":null,"scale":{"domain":[1993,2025.5],"nice":false,"zero":false},"axis":{"values":[1994,1996,1998,2000,2002,2004,2006,2008,2010,2012,2014,2016,2018,2020,2022,2024],"format":"d","grid":false,"domain":false,"tickSize":7,"tickWidth":1.2,"tickColor":"#222","labelOffset":17,"labelPadding":10,"labelFont":"Liberation Sans","labelFontStyle":"italic","labelFontSize":12.5,"labelColor":"#333","labelFlush":false,"labelOverlap":false}}},
"layer":[
{"data":{"name":"bandY"},"mark":{"type":"rule","strokeWidth":7,"color":"#0465CB"},"encoding":{"y":{"field":"lo","type":"quantitative","title":"detrended Y-pole (µas)","scale":{"domain":[-3000,3000],"nice":false,"zero":false},"axis":{"values":[-3000,-2500,-2000,-1500,-1000,-500,0,500,1000,1500,2000,2500,3000],"format":"d","labelExpr":"datum.value%1000==0?datum.label:''","grid":true,"gridColor":"#888","gridWidth":1.6,"domain":false,"tickSize":4,"tickColor":"#222","tickOpacity":{"condition":{"test":"datum.value%1000==0","value":1},"value":0},"labelPadding":3,"labelFont":"Liberation Sans","labelFontStyle":"italic","labelFontSize":12.5,"labelColor":"#333","labelOverlap":false,"titleFont":"DejaVu Sans","titleFontStyle":"italic","titleFontWeight":"normal","titleFontSize":19,"titleColor":"#222","titleX":-46,"titleY":185}},"y2":{"field":"hi"}}},
{"data":{"name":"bandY"},"mark":{"type":"point","filled":true,"opacity":1,"size":100,"color":"#0465CB","shape":"M0,-1 A0.68,1 0 1,1 0,1 A0.68,1 0 1,1 0,-1 Z"},"encoding":{"y":{"field":"hi","type":"quantitative","scale":{"domain":[-3000,3000],"nice":false,"zero":false}}}},
{"data":{"name":"bandY"},"mark":{"type":"point","filled":true,"opacity":1,"size":100,"color":"#0465CB","shape":"M0,-1 A0.68,1 0 1,1 0,1 A0.68,1 0 1,1 0,-1 Z"},"encoding":{"y":{"field":"lo","type":"quantitative","scale":{"domain":[-3000,3000],"nice":false,"zero":false}}}},
{"data":{"name":"ptsY"},"mark":{"type":"rule","strokeWidth":1.3,"color":"#4A94E2"},"encoding":{"y":{"field":"lo","type":"quantitative","scale":{"domain":[-3000,3000],"nice":false,"zero":false}},"y2":{"field":"hi"}}},
{"data":{"name":"ptsY"},"mark":{"type":"tick","orient":"horizontal","size":5,"thickness":1.3,"color":"#4A94E2"},"encoding":{"y":{"field":"lo","type":"quantitative","scale":{"domain":[-3000,3000],"nice":false,"zero":false}}}},
{"data":{"name":"ptsY"},"mark":{"type":"tick","orient":"horizontal","size":5,"thickness":1.3,"color":"#4A94E2"},"encoding":{"y":{"field":"hi","type":"quantitative","scale":{"domain":[-3000,3000],"nice":false,"zero":false}}}},
{"data":{"name":"ptsY"},"mark":{"type":"point","filled":true,"opacity":1,"size":170,"color":"#0465CB","shape":"M0,-1 A0.68,1 0 1,1 0,1 A0.68,1 0 1,1 0,-1 Z"},"encoding":{"y":{"field":"v","type":"quantitative","scale":{"domain":[-3000,3000],"nice":false,"zero":false}}}},
{"data":{"name":"vlines"},"mark":{"type":"rule","color":"#555","strokeWidth":1.5,"opacity":0.85}},
{"data":{"name":"minor"},"mark":{"type":"rule","color":"#222","strokeWidth":1},"encoding":{"y":{"datum":3000,"type":"quantitative","scale":{"domain":[-3000,3000],"nice":false,"zero":false}},"y2":{"datum":3070}}},
{"data":{"name":"minor"},"mark":{"type":"rule","color":"#222","strokeWidth":1},"encoding":{"y":{"datum":-3000,"type":"quantitative","scale":{"domain":[-3000,3000],"nice":false,"zero":false}},"y2":{"datum":-3070}}},
{"data":{"name":"major"},"mark":{"type":"rule","color":"#222","strokeWidth":1.2},"encoding":{"y":{"datum":3000,"type":"quantitative","scale":{"domain":[-3000,3000],"nice":false,"zero":false}},"y2":{"datum":3120}}},
{"data":{"name":"bars"},"mark":{"type":"rule","color":"#07773A","strokeWidth":8},"encoding":{"y":{"datum":3020,"type":"quantitative","scale":{"domain":[-3000,3000],"nice":false,"zero":false}},"y2":{"datum":-2960}}}
]}
]
}
